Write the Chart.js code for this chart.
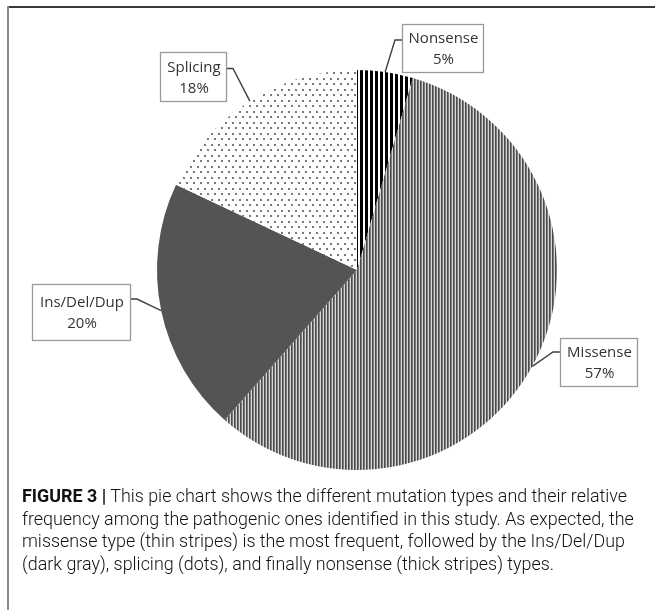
<!DOCTYPE html>
<html>
<head>
<meta charset="utf-8">
<script src="https://cdn.jsdelivr.net/npm/chart.js@4"></script>
<style>
  html, body { margin: 0; padding: 0; background: #fff; }
  body { width: 655px; height: 610px; position: relative; overflow: hidden; }
  #frameTop { position: absolute; left: 7px; top: 6px; width: 648px; height: 2px; background: #3a3a3a; }
  #frameLeft { position: absolute; left: 7px; top: 6px; width: 2px; height: 604px; background: #8a8a8a; }
  #chart { position: absolute; left: 0; top: 0; }
  #caption { position: absolute; left: 22px; top: 485px; font-family: Roboto, "Liberation Sans", sans-serif;
             font-weight: 300; color: #111; font-size: 17px; line-height: 22.6px; white-space: nowrap; }
  #caption b { font-weight: 700; }
</style>
</head>
<body>
<canvas id="chart" width="655" height="610"></canvas>
<div id="frameTop"></div>
<div id="frameLeft"></div>
<div id="caption">
  <div id="cl1"><b>FIGURE 3 |</b> This pie chart shows the different mutation types and their relative</div>
  <div>frequency among the pathogenic ones identified in this study. As expected, the</div>
  <div>missense type (thin stripes) is the most frequent, followed by the Ins/Del/Dup</div>
  <div>(dark gray), splicing (dots), and finally nonsense (thick stripes) types.</div>
</div>
<script>
// ---- data ----
const categories = ["Nonsense", "Missense", "Ins/Del/Dup", "Splicing"];
const shares = [4.5, 57, 20.5, 18];
const shareLabels = ["5%", "57%", "20%", "18%"];

// ---- label box layout (pixels) ----
const boxLayout = [
  { x: 402, y: 24,  w: 81, h: 48, side: "left",  attachDy: -8 },
  { x: 560, y: 338, w: 77, h: 48, side: "left",  attachDy: -10 },
  { x: 32,  y: 284, w: 98, h: 56, side: "right", attachDy: -13 },
  { x: 160, y: 52,  w: 66, h: 49, side: "right", attachDy: -8 }
];

function makePattern(w, h, draw) {
  const c = document.createElement('canvas');
  c.width = w; c.height = h;
  const g = c.getContext('2d');
  draw(g);
  return c.getContext('2d').createPattern(c, 'repeat');
}
const thickStripes = makePattern(5, 4, g => {
  g.fillStyle = '#ffffff'; g.fillRect(0, 0, 5, 4);
  g.fillStyle = '#000000'; g.fillRect(0, 0, 3, 4);
});
const thinStripes = makePattern(3, 4, g => {
  g.fillStyle = '#4a4a4a'; g.fillRect(0, 0, 1, 4);
  g.fillStyle = '#7c7c7c'; g.fillRect(1, 0, 1, 4);
  g.fillStyle = '#d6d6d6'; g.fillRect(2, 0, 1, 4);
});
const dots = makePattern(7, 11, g => {
  g.fillStyle = '#ffffff'; g.fillRect(0, 0, 7, 11);
  g.fillStyle = '#7a7a7a';
  g.fillRect(1, 1, 2, 2);
  g.fillRect(4, 6, 2, 2);
});
const fills = [thickStripes, thinStripes, '#545454', dots];

const calloutPlugin = {
  id: 'callouts',
  afterDatasetsDraw(chart) {
    const ctx = chart.ctx;
    const meta = chart.getDatasetMeta(0);
    ctx.save();
    meta.data.forEach((arc, i) => {
      const b = boxLayout[i];
      const mid = (arc.startAngle + arc.endAngle) / 2;
      const px = arc.x + arc.outerRadius * Math.cos(mid);
      const py = arc.y + arc.outerRadius * Math.sin(mid);
      const cy = b.y + b.h / 2;
      const ay = cy + b.attachDy;
      const ax = b.side === 'left' ? b.x : b.x + b.w;
      const ex = b.side === 'left' ? ax - 7 : ax + 7;
      // leader line
      ctx.strokeStyle = '#404040';
      ctx.lineWidth = 1.4;
      ctx.beginPath();
      ctx.moveTo(ax, ay);
      ctx.lineTo(ex, ay);
      ctx.lineTo(px, py);
      ctx.stroke();
      // box
      ctx.fillStyle = '#ffffff';
      ctx.fillRect(b.x, b.y, b.w, b.h);
      ctx.strokeStyle = '#9a9a9a';
      ctx.lineWidth = 1.3;
      ctx.strokeRect(b.x + 0.5, b.y + 0.5, b.w, b.h);
      // text
      ctx.fillStyle = '#333333';
      ctx.font = '15px "Open Sans", sans-serif';
      ctx.textAlign = 'center';
      ctx.textBaseline = 'middle';
      ctx.fillText(categories[i], b.x + b.w / 2 + 1, cy - 9);
      ctx.fillText(shareLabels[i], b.x + b.w / 2 + 1, cy + 12);
    });
    ctx.restore();
  }
};

new Chart(document.getElementById('chart'), {
  type: 'pie',
  data: {
    labels: categories,
    datasets: [{
      data: shares,
      backgroundColor: fills,
      borderWidth: 0
    }]
  },
  options: {
    responsive: false,
    animation: false,
    layout: { padding: { left: 157, right: 98, top: 70, bottom: 140 } },
    plugins: { legend: { display: false }, tooltip: { enabled: false } }
  },
  plugins: [calloutPlugin]
});

// fit caption width to the reference (first line ~612px)
(function () {
  const l1 = document.getElementById('cl1');
  const w = l1.getBoundingClientRect().width;
  if (w > 0) {
    const cap = document.getElementById('caption');
    const fs = parseFloat(getComputedStyle(cap).fontSize);
    cap.style.fontSize = (fs * 612 / w).toFixed(2) + 'px';
  }
})();
</script>
</body>
</html>
